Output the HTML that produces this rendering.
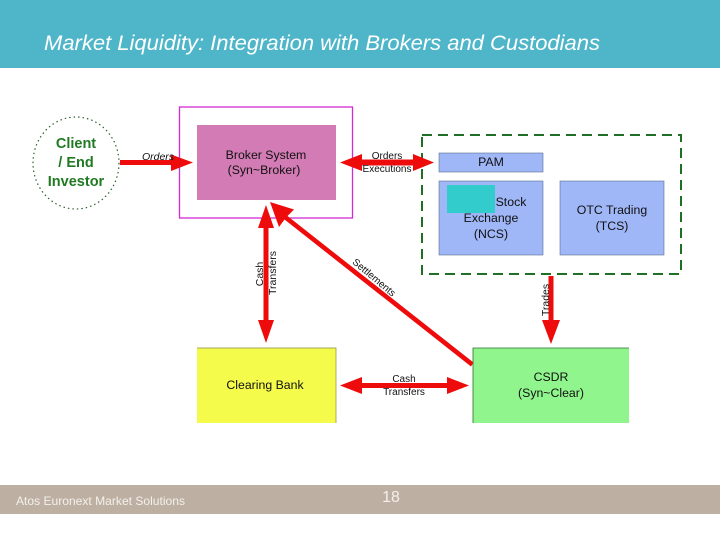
<!DOCTYPE html>
<html><head><meta charset="utf-8"><style>
html,body{margin:0;padding:0;background:#fff}
svg{display:block}
text{font-family:"Liberation Sans",sans-serif}
</style></head><body>
<svg width="720" height="540" viewBox="0 0 720 540" xmlns="http://www.w3.org/2000/svg">
<rect width="720" height="540" fill="#fff"/>
<rect width="720" height="68" fill="#4fb6c9"/>
<text x="44" y="50" font-size="21" font-style="italic" fill="#fff" textLength="556" lengthAdjust="spacingAndGlyphs">Market Liquidity: Integration with Brokers and Custodians</text>
<rect y="485" width="720" height="29" fill="#bdb0a3"/>
<text x="16" y="505" font-size="12" fill="#f4f0ea" textLength="169" lengthAdjust="spacingAndGlyphs">Atos Euronext Market Solutions</text>
<text x="391" y="502" font-size="16" fill="#f4f0ea" text-anchor="middle">18</text>

<ellipse cx="76" cy="163" rx="43" ry="46" fill="#fff" stroke="#2f5f2f" stroke-width="1.2" stroke-dasharray="1.5 3"/>
<g font-size="14.5" font-weight="bold" fill="#1f7a22" text-anchor="middle">
<text x="76" y="148">Client</text>
<text x="76" y="167">/ End</text>
<text x="76" y="186">Investor</text>
</g>

<rect x="179.500" y="107" width="173" height="111" fill="#fff" stroke="#d22bd2" stroke-width="1.300"/>
<rect x="197" y="125" width="139" height="75" fill="#d27bb4"/>
<rect x="422" y="135" width="259" height="139" fill="none" stroke="#1f6f24" stroke-width="2" stroke-dasharray="10 6"/>
<rect x="439" y="153" width="104" height="19" fill="#9fb6f7" stroke="#5c6f91" stroke-width="0.600"/>
<rect x="439" y="181" width="104" height="74" fill="#9fb6f7" stroke="#5c6f91" stroke-width="0.600"/>
<rect x="560" y="181" width="104" height="74" fill="#9fb6f7" stroke="#5c6f91" stroke-width="0.600"/>
<rect x="447" y="185" width="48" height="28" fill="#33cccc"/>
<rect x="197" y="348" width="139" height="75" fill="#f4fb4b"/>
<rect x="473" y="348" width="156" height="75" fill="#90f58c"/>
<path d="M197 348H336V423" fill="none" stroke="#8a8a40" stroke-width="0.700"/>
<path d="M473 423V348H629" fill="none" stroke="#2f6f2f" stroke-width="0.800"/>

<g fill="#ee0b0b" stroke="none">
<path d="M120 160H171V154.500L193 162.500L171 171V165H120Z"/>
<path d="M340 162.500L362 154V159.500H413V154L434 162.500L413 171V165.500H362V171Z"/>
<path d="M266 205L274 228H268.500V320H274L266 343L258 320H263.500V228H258Z"/>
<path d="M270 202L294 209.500L287.500 216L473.500 362.500L471 366.500L284.500 219.500L279 227Z"/>
<path d="M548.500 276H553.500V320H560L551 344L542 320H548.500Z"/>
<path d="M340 385.500L362 377V383H447V377L469 385.500L447 394V388H362V394Z"/>
</g>

<g font-size="12.300" fill="#111" text-anchor="middle">
<text x="158" y="160" font-size="10.500" font-style="italic">Orders</text>
<text x="266" y="159">Broker System</text>
<text x="264" y="174">(Syn~Broker)</text>
<text x="387" y="159" font-size="10">Orders</text>
<text x="387" y="172" font-size="10">Executions</text>
<text x="491" y="166">PAM</text>
<text x="511" y="206">Stock</text>
<text x="491" y="222">Exchange</text>
<text x="491" y="238">(NCS)</text>
<text x="612" y="214">OTC Trading</text>
<text x="612" y="230">(TCS)</text>
<text x="265" y="389">Clearing Bank</text>
<text x="551" y="381">CSDR</text>
<text x="551" y="397">(Syn~Clear)</text>
<text x="404" y="382" font-size="10">Cash</text>
<text x="404" y="395" font-size="10">Transfers</text>
<text transform="translate(263,274) rotate(-90)" font-size="10.500">Cash</text>
<text transform="translate(276,273) rotate(-90)" font-size="10.500">Transfers</text>
<text transform="translate(549,300) rotate(-90)" font-size="10.500">Trades</text>
<text transform="translate(372,280) rotate(40)" font-size="10">Settlements</text>
</g>
</svg>
</body></html>
